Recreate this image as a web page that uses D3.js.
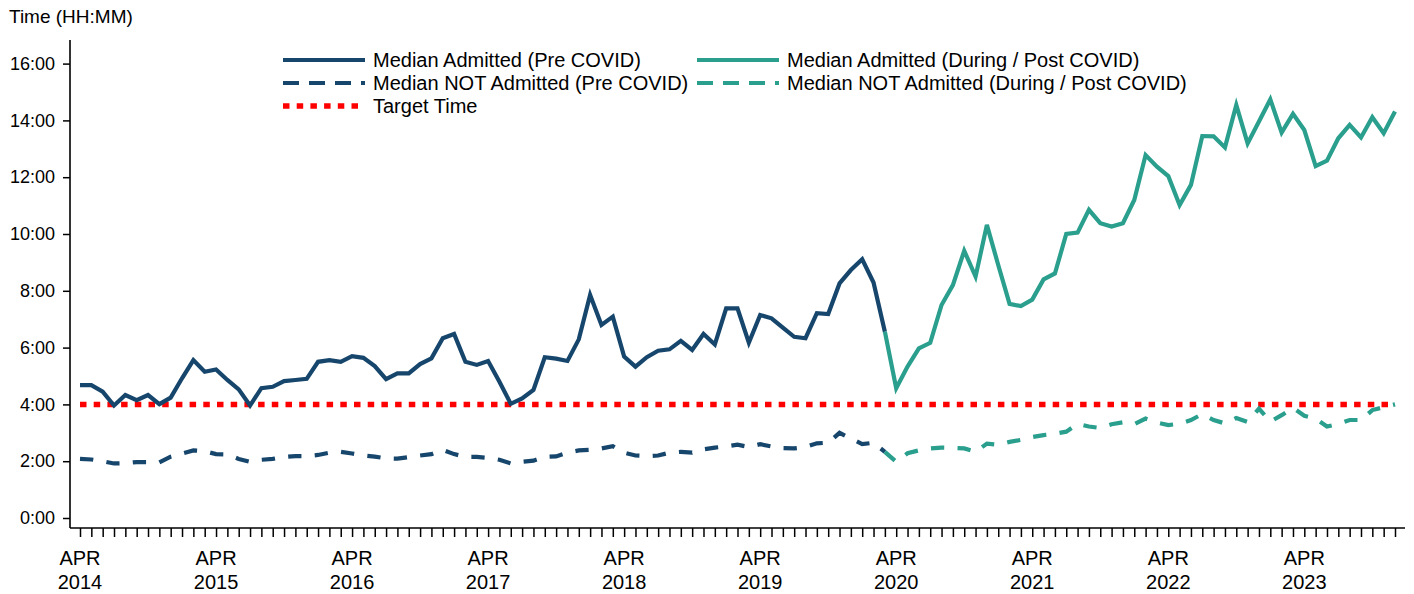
<!DOCTYPE html>
<html><head><meta charset="utf-8">
<script src="https://cdn.jsdelivr.net/npm/d3@7"></script>
<style>
html,body{margin:0;padding:0;background:#fff;}
text{font-family:"Liberation Sans",Arial,sans-serif;fill:#000;}
</style></head>
<body>
<svg id="chart" width="1414" height="594"></svg>
<script>
// ---- Data (hours, decimal) ----
const startMonth = new Date(2014, 3, 1);   // APR 2014
const monthCount = 117;                     // APR 2014 .. DEC 2023
const yTicks = [0, 2, 4, 6, 8, 10, 12, 14, 16];
const yTickLabels = ["0:00","2:00","4:00","6:00","8:00","10:00","12:00","14:00","16:00"];
const xLabelYears = ["2014","2015","2016","2017","2018","2019","2020","2021","2022","2023"];
const targetTime = 4;

// Pre COVID (APR 2014 .. MAR 2020)
const admittedPre = [4.68,4.68,4.45,3.96,4.33,4.15,4.33,4.01,4.24,4.92,5.56,5.15,5.23,4.86,4.53,3.96,4.57,4.62,4.82,4.86,
  4.90,5.50,5.56,5.50,5.70,5.64,5.35,4.89,5.09,5.09,5.42,5.62,6.33,6.48,5.50,5.39,5.53,4.80,4.02,4.21,
  4.51,5.66,5.61,5.53,6.29,7.85,6.80,7.09,5.68,5.33,5.66,5.89,5.94,6.24,5.92,6.48,6.11,7.38,7.38,6.17,
  7.15,7.03,6.70,6.38,6.33,7.21,7.18,8.26,8.73,9.11,8.29,6.56];
const notAdmittedPre = [2.08,2.06,2.00,1.92,1.93,1.97,1.97,1.96,2.16,2.27,2.38,2.35,2.25,2.24,2.08,1.98,2.05,2.08,2.15,2.18,
  2.18,2.22,2.30,2.33,2.27,2.20,2.16,2.10,2.09,2.14,2.20,2.25,2.40,2.25,2.15,2.15,2.12,2.05,1.92,1.98,
  2.02,2.15,2.17,2.30,2.38,2.40,2.45,2.53,2.30,2.20,2.18,2.20,2.30,2.33,2.30,2.42,2.48,2.52,2.58,2.50,
  2.60,2.52,2.46,2.45,2.50,2.63,2.65,3.00,2.80,2.60,2.65,2.33];
// During / Post COVID (MAR 2020 .. DEC 2023)
const admittedPost = [6.56,4.57,5.33,5.97,6.17,7.50,8.20,9.41,8.50,10.32,8.91,7.54,7.46,7.69,8.40,8.61,10.00,10.05,10.85,10.38,
  10.26,10.38,11.20,12.78,12.37,12.04,11.02,11.73,13.45,13.44,13.05,14.54,13.19,13.96,14.74,13.57,14.23,13.66,12.39,12.58,
  13.37,13.84,13.40,14.11,13.55,14.31];
const notAdmittedPost = [2.33,1.98,2.28,2.38,2.45,2.48,2.47,2.45,2.33,2.62,2.58,2.68,2.75,2.85,2.92,2.97,3.04,3.31,3.22,3.17,
  3.30,3.37,3.30,3.50,3.36,3.27,3.32,3.45,3.66,3.45,3.33,3.52,3.38,3.85,3.39,3.62,3.88,3.60,3.50,3.22,
  3.31,3.45,3.45,3.80,3.90,4.00];
const postStart = 71; // MAR 2020 index

const seriesNames = ["Median Admitted (Pre COVID)","Median NOT Admitted (Pre COVID)","Target Time",
  "Median Admitted (During / Post COVID)","Median NOT Admitted (During / Post COVID)"];

// ---- Styles ----
const navy = "#17466d", teal = "#2a9f8e", red = "#ff0000";
const dashNA = "13.3,13.3", dotTarget = "6.5,7.2";

const months = d3.range(monthCount).map(i => d3.timeMonth.offset(startMonth, i));

const svg = d3.select("#chart");
const x = d3.scaleLinear().domain([0, monthCount - 1]).range([80, 1395]);
const y = d3.scaleLinear().domain([0, 16]).range([518, 63.6]);

// Axes
const axisX0 = 70, axisY0 = 528;
const gY = svg.append("g").attr("transform", `translate(${axisX0},0)`)
  .call(d3.axisLeft(y).tickValues(yTicks).tickFormat((d,i)=>yTickLabels[i]).tickSize(7).tickSizeOuter(0).tickPadding(8));
gY.select(".domain").remove();
gY.selectAll(".tick line").attr("stroke","#000").attr("stroke-width",1.5);
gY.selectAll(".tick text").style("font-size","18px").attr("fill","#000");
svg.append("line").attr("x1",axisX0).attr("x2",axisX0).attr("y1",40).attr("y2",axisY0)
  .attr("stroke","#000").attr("stroke-width",1.6);

const gX = svg.append("g").attr("transform", `translate(0,${axisY0})`)
  .call(d3.axisBottom(x).tickValues(d3.range(monthCount)).tickFormat("").tickSize(9).tickSizeOuter(0));
gX.select(".domain").remove();
gX.selectAll(".tick line").attr("stroke","#000").attr("stroke-width",1.5);
svg.append("line").attr("x1",axisX0).attr("x2",1405).attr("y1",axisY0).attr("y2",axisY0)
  .attr("stroke","#000").attr("stroke-width",1.6);

// April labels
const aprIdx = d3.range(monthCount).filter(i => months[i].getMonth() === 3);
aprIdx.forEach((i, k) => {
  const t = svg.append("text").attr("x", x(i)).attr("text-anchor","middle").style("font-size","20px");
  t.append("tspan").attr("x", x(i)).attr("y", 565).text("APR");
  t.append("tspan").attr("x", x(i)).attr("y", 589).text(xLabelYears[k]);
});

// Title
svg.append("text").attr("x",9).attr("y",23).style("font-size","19px").text("Time (HH:MM)");

// Lines
const line = d3.line().x(d => x(d.i)).y(d => y(d.v));
const pts = (arr, off) => arr.map((v, k) => ({i: k + off, v}));

svg.append("path").datum([{i:0,v:targetTime},{i:monthCount-1,v:targetTime}]).attr("d", line)
  .attr("fill","none").attr("stroke",red).attr("stroke-width",5.5).attr("stroke-dasharray",dotTarget);

svg.append("path").datum(pts(notAdmittedPre,0)).attr("d",line).attr("fill","none")
  .attr("stroke",navy).attr("stroke-width",4.2).attr("stroke-dasharray",dashNA);
svg.append("path").datum(pts(notAdmittedPost,postStart)).attr("d",line).attr("fill","none")
  .attr("stroke",teal).attr("stroke-width",4.2).attr("stroke-dasharray",dashNA);
svg.append("path").datum(pts(admittedPre,0)).attr("d",line).attr("fill","none")
  .attr("stroke",navy).attr("stroke-width",4.2).attr("stroke-linejoin","miter");
svg.append("path").datum(pts(admittedPost,postStart)).attr("d",line).attr("fill","none")
  .attr("stroke",teal).attr("stroke-width",4.2).attr("stroke-linejoin","miter");

// Legend
const legend = [
  {name: seriesNames[0], color: navy, dash: null, w: 4.2, col: 0, row: 0},
  {name: seriesNames[1], color: navy, dash: "16,10", w: 4.2, col: 0, row: 1},
  {name: seriesNames[2], color: red, dash: dotTarget, w: 5.5, col: 0, row: 2},
  {name: seriesNames[3], color: teal, dash: null, w: 4.2, col: 1, row: 0},
  {name: seriesNames[4], color: teal, dash: "16,10", w: 4.2, col: 1, row: 1}
];
const colX = [283, 697], rowY = [60, 83, 106];
legend.forEach(l => {
  const lx = colX[l.col], ly = rowY[l.row];
  const ln = svg.append("line").attr("x1",lx).attr("x2",lx+82).attr("y1",ly).attr("y2",ly)
    .attr("stroke",l.color).attr("stroke-width",l.w);
  if (l.dash) ln.attr("stroke-dasharray", l.dash);
  svg.append("text").attr("x",lx+90).attr("y",ly+7).style("font-size","20px").text(l.name);
});
</script>
</body></html>
